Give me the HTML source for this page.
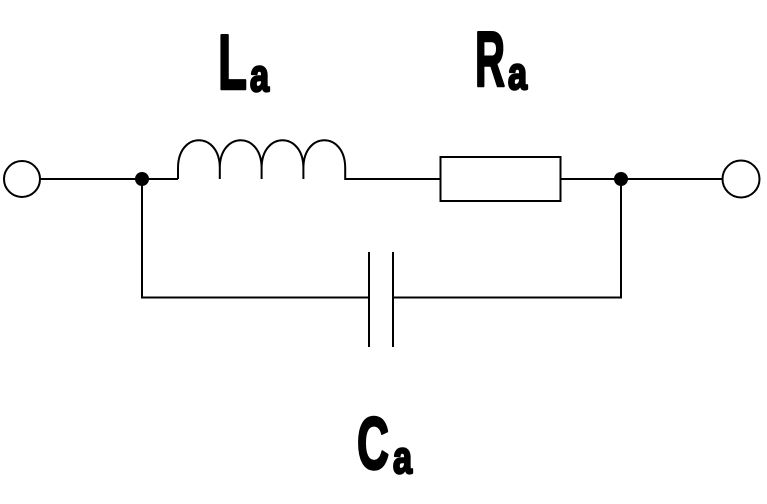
<!DOCTYPE html>
<html><head><style>html,body{margin:0;padding:0;background:#fff}svg{display:block}</style></head>
<body>
<svg width="767" height="504" viewBox="0 0 767 504" xmlns="http://www.w3.org/2000/svg">
<g fill="none" stroke="#000" stroke-width="2">
<circle cx="22" cy="179" r="18"/>
<circle cx="741" cy="179" r="18.5"/>
<line x1="40" y1="179" x2="178" y2="179"/>
<path d="M178,179 L178,168 C178,131 219.8,131 219.8,168 L219.8,179 M219.8,168 C219.8,131 261.6,131 261.6,168 L261.6,179 M261.6,168 C261.6,131 303.4,131 303.4,168 L303.4,179 M303.4,168 C303.4,131 345.2,131 345.2,168 L345.2,179 L440,179"/>
<rect x="440.5" y="157" width="120" height="44"/>
<line x1="561" y1="179" x2="722" y2="179"/>
<polyline points="142,179 142,297.5 369,297.5"/>
<polyline points="621,179 621,297.5 393,297.5"/>
<line x1="369" y1="252" x2="369" y2="347"/>
<line x1="393" y1="252" x2="393" y2="347"/>
</g>
<circle cx="142" cy="179" r="7" fill="#000"/>
<circle cx="621" cy="179" r="7" fill="#000"/>
<g font-family="'Liberation Sans Narrow','Liberation Sans',sans-serif" font-weight="bold" fill="#000" stroke="#000" stroke-width="2.5" stroke-linejoin="round">
<text x="218" y="89" font-size="78" textLength="29" lengthAdjust="spacingAndGlyphs">L</text>
<text x="250" y="91" font-size="45" textLength="19" lengthAdjust="spacingAndGlyphs">a</text>
<text x="475" y="86" font-size="78" textLength="30" lengthAdjust="spacingAndGlyphs">R</text>
<text x="508" y="89" font-size="45" textLength="19" lengthAdjust="spacingAndGlyphs">a</text>
<text x="357" y="469" font-size="74" textLength="32" lengthAdjust="spacingAndGlyphs">C</text>
<text x="393" y="473" font-size="45" textLength="19" lengthAdjust="spacingAndGlyphs">a</text>
</g>
</svg>
</body></html>
